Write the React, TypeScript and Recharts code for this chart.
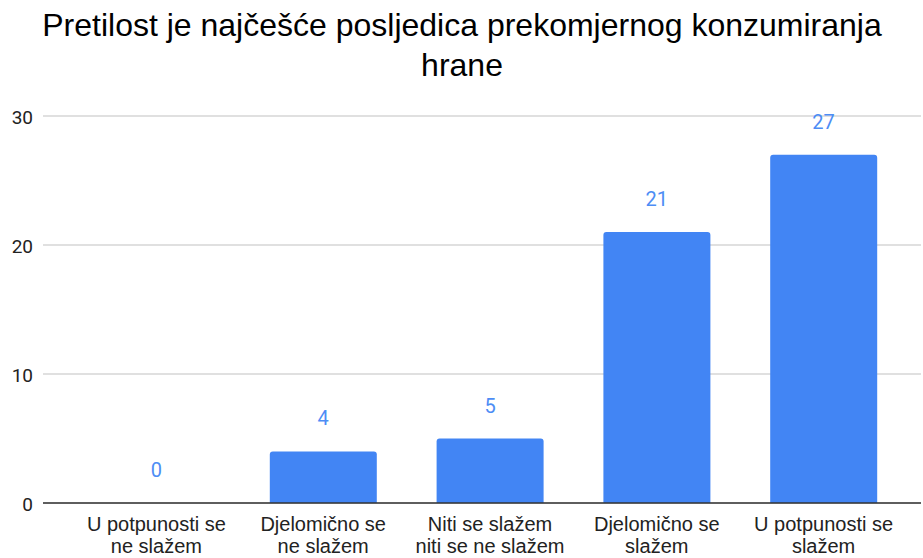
import React from 'react';
import { ComposedChart, Bar, Line, XAxis, YAxis, CartesianGrid, LabelList, ReferenceLine } from 'recharts';

const categories = [
    'U potpunosti se\nne slažem',
    'Djelomično se\nne slažem',
    'Niti se slažem\nniti se ne slažem',
    'Djelomično se\nslažem',
    'U potpunosti se\nslažem',
];
const counts = [0, 4, 5, 21, 27];
const yTicks = [0, 10, 20, 30];
const titleLines = ['Pretilost je najčešće posljedica prekomjernog konzumiranja', 'hrane'];

const data = categories.map((c, i) => ({ name: c, value: counts[i] }));

// two-line category labels
const CategoryTick = (props: any) => {
    const { x, y, payload } = props;
    const lines = String(payload.value).split('\n');
    return (
        <g>
            {lines.map((line, i) => (
                <text
                    key={i}
                    x={x}
                    y={y + 28 + i * 22}
                    textAnchor="middle"
                    fill="#222"
                    style={{ fontFamily: '"Liberation Sans", Arial, sans-serif', fontSize: 20 }}
                >
                    {line}
                </text>
            ))}
        </g>
    );
};

export default function App() {
    return (
        <div style={{ position: 'absolute', left: 0, top: 0, width: 923, height: 558, background: '#fff' }}>
            <svg width={923} height={100} style={{ position: 'absolute', left: 0, top: 0 }}>
                {titleLines.map((t, i) => (
                    <text
                        key={i}
                        x={462}
                        y={36 + i * 40}
                        textAnchor="middle"
                        fill="#000"
                        style={{ fontFamily: '"Liberation Sans", Arial, sans-serif', fontSize: 32 }}
                    >
                        {t}
                    </text>
                ))}
            </svg>
            <ComposedChart
                width={923}
                height={558}
                data={data}
                margin={{ top: 116, right: 2, bottom: 0, left: 0 }}
            >
                <CartesianGrid vertical={false} stroke="#d6d6d6" strokeWidth={1.5} />
                <XAxis
                    dataKey="name"
                    tick={<CategoryTick />}
                    tickLine={false}
                    axisLine={false}
                    tickSize={0}
                    tickMargin={0}
                    interval={0}
                    height={55}
                    padding={{ left: 30, right: 14 }}
                />
                <YAxis
                    domain={[0, 30]}
                    ticks={yTicks}
                    width={43}
                    tickLine={false}
                    axisLine={false}
                    tickSize={0}
                    tickMargin={10}
                    tick={{ fill: '#222', fontSize: 19, fontFamily: 'Roboto, sans-serif', dy: 1 }}
                />
                <ReferenceLine y={0} stroke="#333" strokeWidth={1.5} />
                <Bar dataKey="value" fill="#4285f4" barSize={107} radius={[3, 3, 0, 0]} isAnimationActive={false} />
                <Line dataKey="value" stroke="none" dot={false} activeDot={false} isAnimationActive={false}>
                    <LabelList
                        dataKey="value"
                        position="top"
                        offset={26}
                        fill="#4d8df5"
                        style={{ fontFamily: 'Roboto, sans-serif', fontSize: 20 }}
                    />
                </Line>
            </ComposedChart>
        </div>
    );
}
